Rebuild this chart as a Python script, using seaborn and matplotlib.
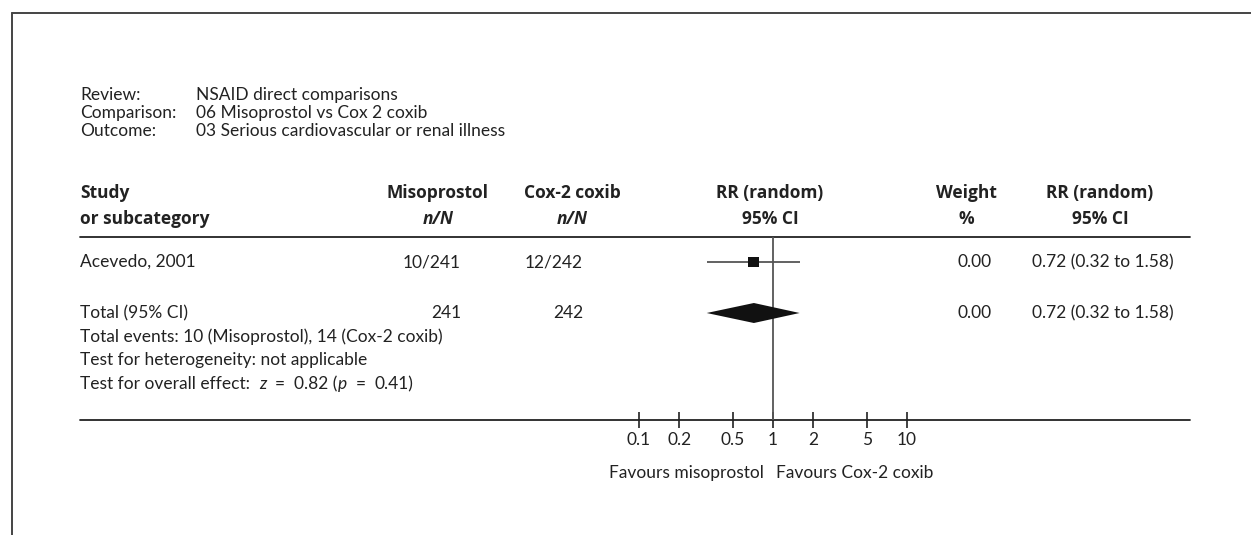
import matplotlib
matplotlib.use("Agg")
import matplotlib.pyplot as plt
import seaborn as sns
import pandas as pd

# ---- data ----
review = "NSAID direct comparisons"
comparison = "06 Misoprostol vs Cox 2 coxib"
outcome = "03 Serious cardiovascular or renal illness"

studies = ["Acevedo, 2001"]
miso_events = [10]
miso_total = [241]
cox_events = [12]
cox_total = [242]
study_rr = [0.72]
study_lo = [0.32]
study_hi = [1.58]
study_weight = [0.00]

total_label = "Total (95% CI)"
total_miso = 241
total_cox = 242
total_rr = 0.72
total_lo = 0.32
total_hi = 1.58
total_weight = 0.00
events_miso = 10
events_cox = 14
z_value = 0.82
p_value = 0.41

ticks = [0.1, 0.2, 0.5, 1, 2, 5, 10]
tick_labels = ["0.1", "0.2", "0.5", "1", "2", "5", "10"]
favours_left = "Favours misoprostol"
favours_right = "Favours Cox-2 coxib"

# ---- layout (pixel positions on a 1251 x 535 canvas) ----
W, H = 1251, 535
study_rows = [262]
total_row = 313
foot_rows = [337, 360, 384]
header_line = 237
axis_line = 420
FS = 12.5
INK = "#222222"

sns.set_theme(style="white")
plt.rcParams["font.family"] = ["Lato", "DejaVu Sans"]
plt.rcParams["text.color"] = INK

fig = plt.figure(figsize=(W / 100, H / 100), dpi=100)
bg = fig.add_axes([0, 0, 1, 1])
bg.set_xlim(0, W)
bg.set_ylim(H, 0)
bg.axis("off")

# frame (top and left only)
bg.plot([12, 12], [H, 13], color="#444444", lw=1.4)
bg.plot([12, W], [13, 13], color="#444444", lw=1.4)

# title block
for y, k, v in [(95, "Review:", review), (113, "Comparison:", comparison), (131, "Outcome:", outcome)]:
    bg.text(80, y, k, fontsize=FS, va="center")
    bg.text(196, y, v, fontsize=FS, va="center")

# column headers
hdr = dict(fontsize=FS, fontweight="bold", va="center", family=["Open Sans", "DejaVu Sans"])
bg.text(80, 193, "Study", ha="left", **hdr)
bg.text(80, 219, "or subcategory", ha="left", **hdr)
bg.text(438, 193, "Misoprostol", ha="center", **hdr)
bg.text(438, 219, "n/N", ha="center", style="italic", **hdr)
bg.text(572, 193, "Cox-2 coxib", ha="center", **hdr)
bg.text(572, 219, "n/N", ha="center", style="italic", **hdr)
bg.text(770, 193, "RR (random)", ha="center", **hdr)
bg.text(770, 219, "95% CI", ha="center", **hdr)
bg.text(966, 193, "Weight", ha="center", **hdr)
bg.text(966, 219, "%", ha="center", **hdr)
bg.text(1100, 193, "RR (random)", ha="center", **hdr)
bg.text(1100, 219, "95% CI", ha="center", **hdr)

bg.plot([80, 1190], [header_line, header_line], color=INK, lw=1.3)
bg.plot([80, 1190], [axis_line, axis_line], color=INK, lw=1.3)

# study rows
for i, y in enumerate(study_rows):
    bg.text(80, y, studies[i], fontsize=FS, va="center")
    bg.text(461, y, f"{miso_events[i]}/{miso_total[i]}", fontsize=FS, va="center", ha="right")
    bg.text(583, y, f"{cox_events[i]}/{cox_total[i]}", fontsize=FS, va="center", ha="right")
    bg.text(992, y, f"{study_weight[i]:.2f}", fontsize=FS, va="center", ha="right")
    bg.text(1032, y, f"{study_rr[i]:.2f} ({study_lo[i]:.2f} to {study_hi[i]:.2f})",
            fontsize=FS, va="center", ha="left")

# total row + footnotes
bg.text(80, total_row, total_label, fontsize=FS, va="center")
bg.text(461, total_row, str(total_miso), fontsize=FS, va="center", ha="right")
bg.text(583, total_row, str(total_cox), fontsize=FS, va="center", ha="right")
bg.text(992, total_row, f"{total_weight:.2f}", fontsize=FS, va="center", ha="right")
bg.text(1032, total_row, f"{total_rr:.2f} ({total_lo:.2f} to {total_hi:.2f})",
        fontsize=FS, va="center", ha="left")
bg.text(80, foot_rows[0], f"Total events: {events_miso} (Misoprostol), {events_cox} (Cox-2 coxib)",
        fontsize=FS, va="center")
bg.text(80, foot_rows[1], "Test for heterogeneity: not applicable", fontsize=FS, va="center")

# overall effect line with italic z and p
parts = [("Test for overall effect:  ", "normal"), ("z", "italic"), ("  =  ", "normal"),
         (f"{z_value:.2f} (", "normal"), ("p", "italic"), ("  =  ", "normal"),
         (f"{p_value:.2f})", "normal")]
prev = bg.text(80, foot_rows[2], parts[0][0], fontsize=FS, va="center", style=parts[0][1])
for txt, st in parts[1:]:
    prev = bg.annotate(txt, xy=(1, 0), xycoords=prev, va="bottom", ha="left",
                       fontsize=FS, style=st)

# ---- forest panel on log scale ----
fx0, fx1 = 639, 907
fax = fig.add_axes([fx0 / W, (H - axis_line) / H, (fx1 - fx0) / W, (axis_line - header_line) / H])
fax.set_xscale("log")
fax.set_xlim(ticks[0], ticks[-1])
fax.set_ylim(axis_line, header_line)
fax.patch.set_alpha(0)
for s in fax.spines.values():
    s.set_visible(False)

fax.axvline(1, color="#555555", lw=1.3, zorder=1)

df = pd.DataFrame({"rr": study_rr, "lo": study_lo, "hi": study_hi, "row": study_rows})
fax.hlines(df["row"], df["lo"], df["hi"], color="#555555", lw=1.3, zorder=2)
sns.scatterplot(data=df, x="rr", y="row", marker="s", s=62, color="#111111",
                edgecolor="none", ax=fax, zorder=3, legend=False)

fax.fill([total_lo, total_rr, total_hi, total_rr],
         [total_row, total_row - 10, total_row, total_row + 10],
         color="#111111", zorder=3, lw=0)

fax.set_xticks(ticks)
fax.set_xticklabels(tick_labels, fontsize=FS)
fax.minorticks_off()
fax.tick_params(axis="x", direction="inout", length=11, width=1.2, color=INK, pad=3,
                bottom=True, labelcolor=INK)
fax.set_yticks([])
fax.set_xlabel("")
fax.set_ylabel("")

bg.text(764, 473, favours_left, fontsize=FS, va="center", ha="right")
bg.text(776, 473, favours_right, fontsize=FS, va="center", ha="left")

fig.savefig("out.png", dpi=100, facecolor="white")
